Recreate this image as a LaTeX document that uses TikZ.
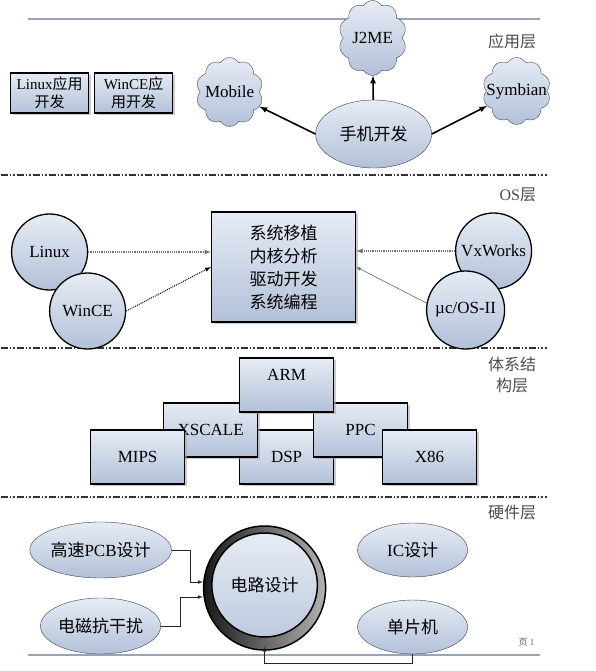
\documentclass[tikz,border=0pt]{standalone}
\usepackage{fontspec}
\setmainfont{Liberation Serif}
\newfontfamily\zhfont{Noto Sans CJK SC}
\newcommand{\zh}[1]{{\zhfont #1}}
\usetikzlibrary{shapes.symbols}
\usetikzlibrary{shapes.geometric}
\usetikzlibrary{shadows}

\definecolor{paleTop}{RGB}{230,236,245}
\definecolor{paleBot}{RGB}{178,192,216}
\definecolor{ruleBlue}{RGB}{150,165,185}

\begin{document}
\begin{tikzpicture}[
	x=1pt, y=-1pt,
	font=\fontsize{17}{21}\selectfont,
	box/.style={draw=black, line width=1.3pt, top color=paleTop, bottom color=paleBot,
		inner sep=0pt, drop shadow={shadow xshift=2pt, shadow yshift=-2pt, fill=black!35, opacity=.6}},
	cloudy/.style={cloud, cloud puffs=10, cloud puff arc=120, cloud ignores aspect,
		draw=black!70, top color=paleTop, bottom color=paleBot, inner sep=0pt},
	orb/.style={circle, draw=black, line width=1.3pt, top color=paleTop, bottom color=paleBot, inner sep=0pt},
	blob/.style={ellipse, draw=black!75, top color=paleTop, bottom color=paleBot, inner sep=0pt},
	layer label/.style={anchor=east, text=black!70, font=\fontsize{16}{21}\selectfont},
	rule line/.style={ruleBlue, line width=1.6pt},
	sep line/.style={black!80, line width=1.2pt, dash pattern=on 7pt off 2pt on 1.5pt off 2pt on 1.5pt off 2pt},
	bold arrow/.style={-latex, line width=1.6pt},
	faint link/.style={-latex, black!55, line width=1.2pt, densely dotted},
	dark link/.style={-latex, black, line width=1pt, densely dotted},
	thin link/.style={-latex, black!60, line width=.6pt},
	elbow/.style={-latex, black!85, line width=.7pt}]

\def\RuleEnd{539}

% page frame and layer separators
\draw[rule line] (27,19) -- (\RuleEnd,19);
\draw[sep line] (0,175) -- (546,175);
\draw[sep line] (0,348) -- (546,348);
\draw[sep line] (0,497) -- (546,497);
\draw[rule line] (27,655) -- (\RuleEnd,655);

% layer names
\node[layer label] (lapp) at (\RuleEnd,41) {\zh{应用层}};
\node[layer label] (los) at (\RuleEnd,195) {OS\zh{层}};
\node[layer label, align=center] (larch) at (\RuleEnd,375) {\zh{体系结}\\\zh{构层}};
\node[layer label] (lhw) at (\RuleEnd,513) {\zh{硬件层}};
\node[text=black!60, font=\fontsize{9}{10}\selectfont] (pageno) at (526,642) {\zh{页} 1};

% application layer
\node[box, minimum width=78pt, minimum height=40pt, align=center,
	font=\fontsize{15}{18}\selectfont] (linuxapp) at (49,93) {Linux\zh{应用}\\\zh{开发}};
\node[box, minimum width=78pt, minimum height=40pt, align=center,
	font=\fontsize{15}{18}\selectfont] (winceapp) at (133,93) {WinCE\zh{应}\\\zh{用开发}};

\node[cloudy, minimum width=68pt, minimum height=75pt] (j2me) at (372,38) {\makebox[0pt]{J2ME}};
\node[cloudy, minimum width=67pt, minimum height=69pt] (mobile) at (229,92) {\makebox[0pt]{Mobile}};
\node[cloudy, minimum width=68pt, minimum height=67pt] (symbian) at (516,91) {\makebox[0pt]{Symbian}};
\node[blob, minimum width=116pt, minimum height=68pt] (phone) at (373,134) {\zh{手机开发}};

\draw[bold arrow] (phone.west) -- (mobile);
\draw[bold arrow] (phone) -- (j2me);
\draw[bold arrow] (phone.east) -- (symbian);

% OS layer
\node[box, minimum width=144pt, minimum height=110pt, align=center,
	font=\fontsize{17}{23}\selectfont] (kernel) at (283,267)
	{\zh{系统移植}\\\zh{内核分析}\\\zh{驱动开发}\\\zh{系统编程}};

\node[orb, minimum size=76pt] (linux) at (49,252) {Linux};
\node[orb, minimum size=76pt] (wince) at (87,311) {WinCE};
\node[orb, minimum size=76pt] (vxworks) at (493,251) {VxWorks};
\node[orb, minimum size=78pt] (ucos) at (465,310) {µc/OS-II};

\draw[faint link] (linux) -- (kernel.west |- linux);
\draw[dark link] (wince.east) -- (kernel.west);
\draw[faint link] (vxworks) -- (kernel.east |- vxworks);
\draw[thin link] (ucos.170) -- (kernel.east);

% architecture layer
\begin{scope}[every node/.style={box, minimum width=94pt, minimum height=54pt}]
\node (dsp) at (286,457) {DSP};
\node (xscale) at (210,430) {XSCALE};
\node (ppc) at (360,430) {PPC};
\node[text depth=20pt] (arm) at (286,385) {ARM};
\node (mips) at (137,457) {MIPS};
\node (xeightsix) at (429,457) {X86};
\end{scope}

% hardware layer
\node[blob, minimum width=111pt, minimum height=56pt] (pcb) at (100,550) {\zh{高速}PCB\zh{设计}};
\node[blob, minimum width=111pt, minimum height=56pt] (emc) at (100,626) {\zh{电磁抗干扰}};
\node[blob, minimum width=110pt, minimum height=54pt] (ic) at (412,550) {IC\zh{设计}};
\node[blob, minimum width=110pt, minimum height=54pt] (mcu) at (412,627) {\zh{单片机}};

\node[ellipse, draw=black, line width=1.5pt, left color=black!90, right color=black!30,
	minimum width=122pt, minimum height=124pt] (circuit) at (264,588) {};
\node[ellipse, draw=black, line width=1.5pt, top color=paleTop, bottom color=paleBot!85,
	minimum width=100pt, minimum height=104pt] (circuitin) at (264,585) {\zh{电路设计}};

\draw[elbow] (pcb.east) -- ++(19,0) |- ([yshift=6pt]circuit.west);
\draw[elbow] (emc.east) -- ++(19,0) |- ([yshift=-9pt]circuit.west);
\draw[elbow] (mcu.south) -- ++(0,9) -| ([yshift=4pt]circuit.south);

\useasboundingbox (0,0) rectangle (595,671);
\end{tikzpicture}
\end{document}
